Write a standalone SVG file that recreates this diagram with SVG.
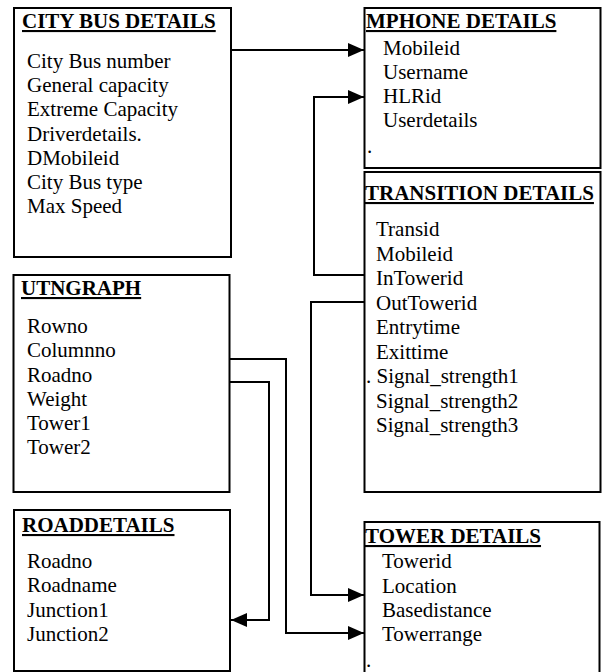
<svg xmlns="http://www.w3.org/2000/svg" width="602" height="672" viewBox="0 0 602 672">
  <style>
    .box { fill: #fff; stroke: #000; stroke-width: 2; }
    .title { font-family: "Liberation Serif", "Times New Roman", serif; font-size: 21px; font-weight: bold; text-decoration: underline; fill: #000; }
    .item { font-family: "Liberation Serif", "Times New Roman", serif; font-size: 21px; fill: #000; }
    .conn { fill: none; stroke: #000; stroke-width: 2; }
  </style>
  <defs>
    <marker id="arrow" markerUnits="userSpaceOnUse" markerWidth="16" markerHeight="14" refX="16" refY="7" orient="auto">
      <path d="M0,0 L16,7 L0,14 z" fill="#000"/>
    </marker>
  </defs>
  <rect width="602" height="672" fill="#fff"/>

  <g id="citybus">
    <rect class="box" x="14" y="8" width="217" height="249"/>
    <text class="title" x="22" y="28">CITY BUS DETAILS</text>
    <text class="item" x="27" y="68">City Bus number</text>
    <text class="item" x="27" y="92">General capacity</text>
    <text class="item" x="27" y="116">Extreme Capacity</text>
    <text class="item" x="27" y="140.5">Driverdetails.</text>
    <text class="item" x="27" y="165">DMobileid</text>
    <text class="item" x="27" y="189">City Bus type</text>
    <text class="item" x="27" y="213">Max Speed</text>
  </g>

  <g id="mphone">
    <rect class="box" x="364.5" y="8" width="236" height="160"/>
    <text class="title" x="366" y="28">MPHONE DETAILS</text>
    <text class="item" x="383" y="55">Mobileid</text>
    <text class="item" x="383" y="79">Username</text>
    <text class="item" x="383" y="103">HLRid</text>
    <text class="item" x="383" y="127">Userdetails</text>
    <text class="item" x="367" y="153">.</text>
  </g>

  <g id="transition">
    <rect class="box" x="364.5" y="172" width="236" height="320"/>
    <text class="title" x="365" y="200">TRANSITION DETAILS</text>
    <text class="item" x="376" y="236">Transid</text>
    <text class="item" x="376" y="260.5">Mobileid</text>
    <text class="item" x="376" y="285">InTowerid</text>
    <text class="item" x="376" y="309.5">OutTowerid</text>
    <text class="item" x="376" y="334">Entrytime</text>
    <text class="item" x="376" y="358.5">Exittime</text>
    <text class="item" x="366" y="383">. Signal_strength1</text>
    <text class="item" x="376" y="407.5">Signal_strength2</text>
    <text class="item" x="376" y="432">Signal_strength3</text>
  </g>

  <g id="utngraph">
    <rect class="box" x="13.5" y="275" width="216" height="217"/>
    <text class="title" x="21" y="295">UTNGRAPH</text>
    <text class="item" x="27" y="333">Rowno</text>
    <text class="item" x="27" y="357">Columnno</text>
    <text class="item" x="27" y="381.5">Roadno</text>
    <text class="item" x="27" y="406">Weight</text>
    <text class="item" x="27" y="430">Tower1</text>
    <text class="item" x="27" y="454">Tower2</text>
  </g>

  <g id="roaddetails">
    <rect class="box" x="14" y="510" width="216" height="161"/>
    <text class="title" x="22" y="532">ROADDETAILS</text>
    <text class="item" x="27" y="568">Roadno</text>
    <text class="item" x="27" y="592">Roadname</text>
    <text class="item" x="27" y="617">Junction1</text>
    <text class="item" x="27" y="641">Junction2</text>
  </g>

  <g id="tower">
    <rect class="box" x="364.5" y="522" width="235" height="170"/>
    <text class="title" x="365" y="543">TOWER DETAILS</text>
    <text class="item" x="382" y="568">Towerid</text>
    <text class="item" x="382" y="593">Location</text>
    <text class="item" x="382" y="617">Basedistance</text>
    <text class="item" x="382" y="641">Towerrange</text>
    <text class="item" x="366" y="667">.</text>
  </g>

  <g id="connectors">
    <path class="conn" d="M231,50 H364" marker-end="url(#arrow)"/>
    <path class="conn" d="M364,275 H314 V97 H364" marker-end="url(#arrow)"/>
    <path class="conn" d="M364,302 H311 V595 H364" marker-end="url(#arrow)"/>
    <path class="conn" d="M230,359 H286 V633 H364" marker-end="url(#arrow)"/>
    <path class="conn" d="M230,382 H269 V620 H231" marker-end="url(#arrow)"/>
  </g>
</svg>
